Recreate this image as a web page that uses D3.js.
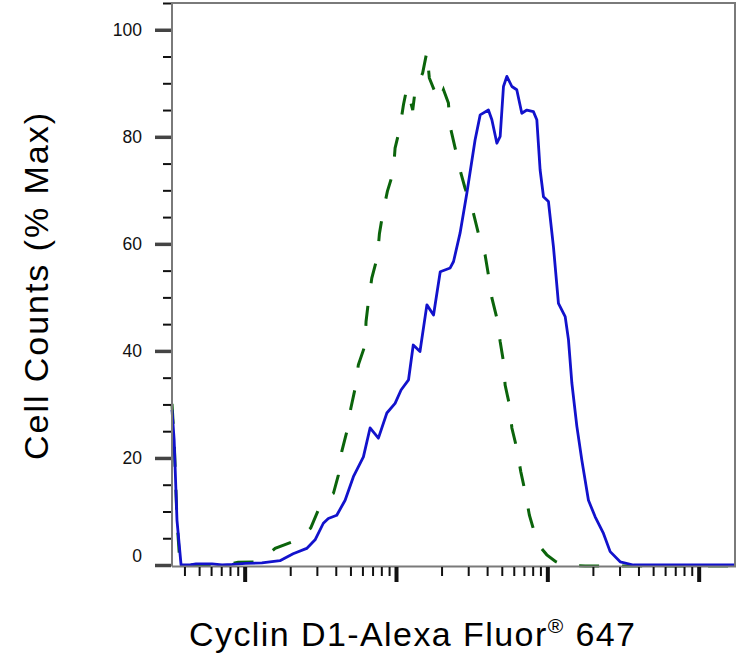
<!DOCTYPE html>
<html>
<head>
<meta charset="utf-8">
<script src="https://cdn.jsdelivr.net/npm/d3@7/dist/d3.min.js"></script>
<style>
  html, body { margin: 0; padding: 0; background: #fff; }
  svg { display: block; }
  text { font-family: "Liberation Sans", Arial, Helvetica, sans-serif; }
</style>
</head>
<body>
<svg id="chart" width="755" height="665"></svg>
<script>
// ---- data ----
const blueX = [3.31, 3.42, 3.57, 3.80, 4.36, 4.77, 6.09, 7.09, 8.26, 10.1, 13.0, 17.1, 20.9, 25.7, 29.2, 33.1, 35.7, 40.6, 46.1, 52.3, 60.9, 67.4, 76.5, 87.0, 98.6, 108, 121, 130, 144, 160, 177, 196, 228, 240, 265, 294, 333, 360, 408, 430, 464, 488, 513, 540, 583, 628, 678, 732, 809, 852, 896, 943, 1017, 1097, 1184, 1312, 1379, 1452, 1567, 1690, 1869, 2070, 2349, 2601, 3028, 3708, 7551, 17378];
const blueY = [29.0, 23.4, 8.4, 0, 0, 0.2, 0.2, 0, 0.1, 0.3, 0.4, 0.8, 2.1, 3.1, 4.7, 7.8, 8.7, 9.3, 12.1, 16.5, 20.2, 25.6, 23.7, 28.4, 30.2, 32.7, 34.6, 41.1, 39.9, 48.6, 46.7, 54.8, 55.5, 56.7, 62.0, 69.5, 79.4, 84.1, 85.0, 83.2, 78.8, 80.1, 89.4, 91.3, 89.4, 88.8, 84.4, 85.0, 84.7, 83.2, 73.8, 68.8, 67.9, 59.5, 48.9, 46.4, 42.1, 34.0, 25.9, 19.6, 12.1, 9.0, 5.9, 2.5, 0.6, 0, 0, 0];

const greenX = [3.31, 3.42, 3.57, 3.74, 5.91, 8.01, 9.05, 12.1, 13.9, 15.9, 21.0, 24.0, 27.3, 30.7, 34.5, 38.6, 41.6, 43.8, 47.3, 50.3, 53.7, 56.4, 62.5, 63.4, 65.7, 69.2, 75.4, 77.7, 81.8, 87.7, 96.1, 98.6, 106, 112, 118, 129, 134, 150, 160, 166, 186, 193, 206, 222, 228, 246, 265, 286, 325, 350, 388, 408, 430, 464, 488, 513, 526, 562, 583, 628, 668, 713, 761, 831, 896, 992, 1126, 1266, 1777, 17378];
const greenY = [30.1, 23.4, 8.4, 0, 0, 0.2, 0.5, 0.6, 1.7, 3.1, 4.4, 5.4, 6.9, 10.3, 12.1, 13.4, 16.8, 21.2, 24.9, 29.3, 33.0, 37.4, 41.1, 45.5, 49.2, 53.6, 57.6, 61.9, 65.7, 69.8, 73.5, 77.9, 81.6, 86.0, 89.1, 85.0, 88.8, 91.9, 95.9, 91.0, 87.5, 86.7, 88.8, 86.3, 81.9, 77.9, 73.8, 70.4, 65.7, 62.0, 57.9, 54.2, 49.9, 46.1, 41.7, 38.0, 33.6, 29.9, 25.6, 21.8, 17.4, 13.7, 9.3, 5.6, 3.4, 1.9, 0.7, 0, -0.2, -0.2];

const yMajorTicks = [0, 20, 40, 60, 80, 100];
const yTickLabels = ["0", "20", "40", "60", "80", "100"];
const xMajorTicks = [10, 100, 1000, 10000];
const xLabel = "Cyclin D1-Alexa Fluor";
const xLabelMark = "®";
const xLabelTail = " 647";
const yLabel = "Cell Counts (% Max)";

// ---- layout ----
const padL = 172, padR = 735, padT = 3, padB = 565;
const svg = d3.select("#chart");

const x = d3.scaleLog().domain([3.31, 17378]).range([padL, padR]);
const y = d3.scaleLinear().domain([0, 105]).range([padB, padT]);

// minor tick values
const xMinor = [];
for (let e = 0; e <= 4; e++) {
  for (let k = 2; k <= 9; k++) {
    const v = k * Math.pow(10, e);
    if (v > x.domain()[0] && v < x.domain()[1]) xMinor.push(v);
  }
}
const yMinor = d3.range(0, 106, 5).filter(v => yMajorTicks.indexOf(v) < 0);

// ---- curves ----
const line = d3.line().x(d => x(d[0])).y(d => y(d[1]));
const green = greenX.map((v, i) => [v, greenY[i]]);
const blue = blueX.map((v, i) => [v, blueY[i]]);

svg.append("path")
  .attr("d", line(green))
  .attr("fill", "none")
  .attr("stroke", "#0b640b")
  .attr("stroke-width", 3)
  .attr("stroke-dasharray", "20,23");

svg.append("path")
  .attr("d", line(blue))
  .attr("fill", "none")
  .attr("stroke", "#1212cc")
  .attr("stroke-width", 2.8)
  .attr("stroke-linejoin", "round");

// ---- frame ----
const frameColor = "#7a7a7a";
svg.append("path")
  .attr("d", `M${padL},${padB + 1.5} V${padT} H${padR} V${padB + 1.5} H${padL}`)
  .attr("fill", "none")
  .attr("stroke", frameColor)
  .attr("stroke-width", 2);

// ---- y axis ----
const yMajorAxis = d3.axisLeft(y).tickValues(yMajorTicks)
  .tickSize(16).tickPadding(13)
  .tickFormat((d, i) => yTickLabels[i]);
const gy = svg.append("g").attr("transform", `translate(${padL - 1},0)`).call(yMajorAxis);
gy.select(".domain").remove();
gy.selectAll(".tick line").attr("stroke", "#444").attr("stroke-width", 3.5);
gy.selectAll(".tick text")
  .attr("font-size", 17.5)
  .attr("fill", "#111")
  .attr("font-family", "'Liberation Sans', Arial, sans-serif")
  .attr("dy", (d) => d === 0 ? "-0.2em" : "0.32em");

const yMinorAxis = d3.axisLeft(y).tickValues(yMinor).tickSize(8).tickFormat("");
const gy2 = svg.append("g").attr("transform", `translate(${padL - 1},0)`).call(yMinorAxis);
gy2.select(".domain").remove();
gy2.selectAll(".tick line").attr("stroke", "#111").attr("stroke-width", 2);

// ---- x axis ----
const xMajorAxis = d3.axisBottom(x).tickValues(xMajorTicks).tickSize(15).tickFormat("");
const gx = svg.append("g").attr("transform", `translate(0,${padB + 2})`).call(xMajorAxis);
gx.select(".domain").remove();
gx.selectAll(".tick line").attr("stroke", "#111").attr("stroke-width", 4);

const xMinorAxis = d3.axisBottom(x).tickValues(xMinor).tickSize(9).tickFormat("");
const gx2 = svg.append("g").attr("transform", `translate(0,${padB + 2})`).call(xMinorAxis);
gx2.select(".domain").remove();
gx2.selectAll(".tick line").attr("stroke", "#111").attr("stroke-width", 2);

// ---- axis titles ----
const xt = svg.append("text")
  .attr("x", 189).attr("y", 646)
  .attr("font-size", 34)
  .attr("fill", "#000")
  .attr("textLength", 446)
  .attr("lengthAdjust", "spacing");
xt.append("tspan").text(xLabel);
xt.append("tspan").attr("font-size", 21).attr("dy", -13).text(xLabelMark);
xt.append("tspan").attr("dy", 13).text(xLabelTail);

svg.append("text")
  .attr("transform", "translate(48,286.5) rotate(-90)")
  .attr("text-anchor", "middle")
  .attr("font-size", 34)
  .attr("fill", "#000")
  .attr("textLength", 347)
  .attr("lengthAdjust", "spacing")
  .text(yLabel);
</script>
</body>
</html>
